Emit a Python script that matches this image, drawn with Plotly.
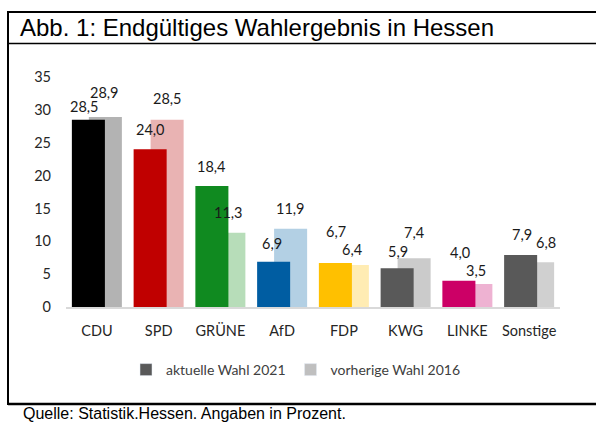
import plotly.graph_objects as go

# Daten
parteien = ["CDU", "SPD", "GRÜNE", "AfD", "FDP", "KWG", "LINKE", "Sonstige"]
wahl_2021 = [28.5, 24.0, 18.4, 6.9, 6.7, 5.9, 4.0, 7.9]
wahl_2016 = [28.9, 28.5, 11.3, 11.9, 6.4, 7.4, 3.5, 6.8]

farben_2021 = ["#000000", "#C00000", "#108A20", "#005DA2", "#FFC000", "#595959", "#CC0066", "#595959"]
farben_2016 = ["#B3B3B3", "#E9B3B3", "#B7DDB9", "#B3D0E4", "#FFECB3", "#CBCBCB", "#EEB2D2", "#D0D0D0"]

# Lage der Beschriftungen (Pixel ueber dem Balken), wie im Original
hoch_2021 = [13, 20, 20, 18, 31, 17, 28, 21]
hoch_2016 = [25, 21, 20, 20, 15, 26, 14, 20]
seit_2021 = [-4, 0, 0, -2, 1, 1, 1, 1]
seit_2016 = [-1, 0, 0, 0, 0, 0, 0, 8]

# Plotbereich in Pixeln
L, R, T, B = 66, 36, 77, 116
W, H = 596, 423
pw, ph = W - L - R, H - T - B

def px_x(p):
    return (p - L) / pw

def px_y(p):
    return (H - B - p) / ph

breite = 0.535
fig = go.Figure()

# 2016 hinten, 2021 davor
fig.add_trace(go.Bar(
    x=parteien, y=wahl_2016, width=breite, offset=-0.13,
    marker=dict(color=farben_2016, line=dict(width=0)),
    showlegend=False, hoverinfo="x+y"
))
fig.add_trace(go.Bar(
    x=parteien, y=wahl_2021, width=breite, offset=-0.405,
    marker=dict(color=farben_2021, line=dict(width=0)),
    showlegend=False, hoverinfo="x+y"
))

# Legende
fig.add_trace(go.Bar(x=[None], y=[None], name="aktuelle Wahl 2021", marker_color="#595959"))
fig.add_trace(go.Bar(x=[None], y=[None], name="vorherige Wahl 2016", marker_color="#BFBFBF"))

def fmt(v):
    return f"{v:.1f}".replace(".", ",")

label_font = dict(family="Lato", size=14.5, color="#1a1a1a")
for i in range(len(parteien)):
    fig.add_annotation(x=i - 0.1375, y=wahl_2021[i], text=fmt(wahl_2021[i]), showarrow=False,
                       yanchor="middle", yshift=hoch_2021[i], xshift=seit_2021[i], font=label_font)
    fig.add_annotation(x=i + 0.1375, y=wahl_2016[i], text=fmt(wahl_2016[i]), showarrow=False,
                       yanchor="middle", yshift=hoch_2016[i], xshift=seit_2016[i], font=label_font)

# Quelle
fig.add_annotation(xref="paper", yref="paper", x=px_x(21), y=px_y(413), xanchor="left", yanchor="middle",
                   text="Quelle: Statistik.Hessen. Angaben in Prozent.", showarrow=False,
                   font=dict(family="Liberation Sans", size=16, color="#000000"))

# Rahmen
linie = dict(color="#000000")
fig.add_shape(type="line", xref="paper", yref="paper", x0=px_x(8), x1=px_x(600), y0=px_y(12), y1=px_y(12), line=dict(width=2, **linie))
fig.add_shape(type="line", xref="paper", yref="paper", x0=px_x(8), x1=px_x(600), y0=px_y(43.5), y1=px_y(43.5), line=dict(width=1.5, **linie))
fig.add_shape(type="line", xref="paper", yref="paper", x0=px_x(8), x1=px_x(600), y0=px_y(404), y1=px_y(404), line=dict(width=2.5, **linie))
fig.add_shape(type="line", xref="paper", yref="paper", x0=px_x(8), x1=px_x(8), y0=px_y(11), y1=px_y(405), line=dict(width=2, **linie))

fig.update_layout(
    width=W, height=H,
    margin=dict(l=L, r=R, t=T, b=B),
    paper_bgcolor="white", plot_bgcolor="white",
    barmode="overlay",
    title=dict(text="Abb. 1: Endgültiges Wahlergebnis in Hessen", xref="container", yref="container",
               x=20 / W, xanchor="left", y=1 - 27.5 / H, yanchor="middle",
               font=dict(family="Liberation Sans", size=24, color="#000000")),
    font=dict(family="Lato", size=14.5, color="#262626"),
    legend=dict(orientation="h", xanchor="left", x=px_x(126), yanchor="middle", y=px_y(370),
                font=dict(family="Lato", size=14, color="#404040")),
    xaxis=dict(range=[-0.5, 7.5], showline=True, linecolor="#D9D9D9", linewidth=2,
               ticks="", ticklabelstandoff=10, showgrid=False, fixedrange=True),
    yaxis=dict(range=[0, 35], dtick=5, showgrid=False, zeroline=False, showline=False,
               ticks="", ticklabelstandoff=14, fixedrange=True),
)

# Seitenrand des Browsers entfernen, damit die Grafik bei (0,0) beginnt
fig.write_html("out.html", config={"displayModeBar": False},
               post_script="document.body.style.margin='0';")
